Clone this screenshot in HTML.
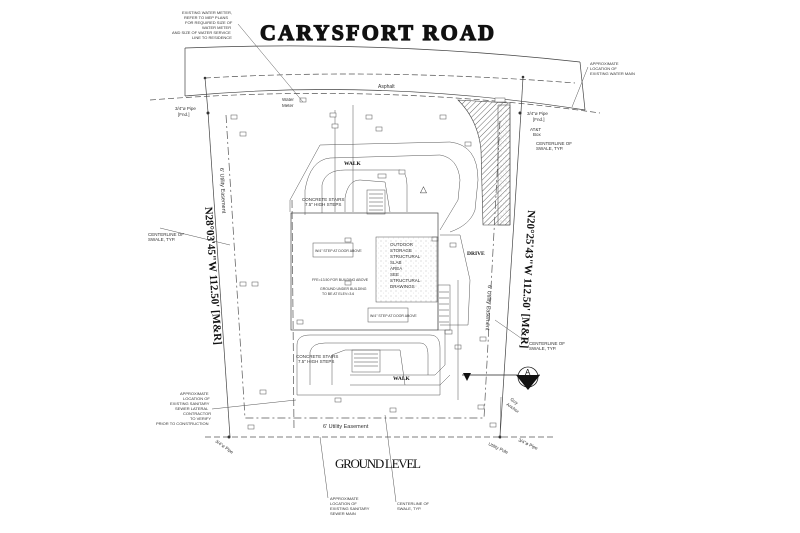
<!DOCTYPE html>
<html><head><style>
html,body{margin:0;padding:0;background:#fff;}
svg{display:block;}
text{font-family:"Liberation Sans",sans-serif;fill:#333;}
.t{font-size:4.5px;}
.s{fill:none;stroke:#444;stroke-width:0.7;}
.d{fill:none;stroke:#555;stroke-width:0.7;stroke-dasharray:6 3;}
.th{fill:none;stroke:#555;stroke-width:0.5;}
.tag{fill:#fff;stroke:#555;stroke-width:0.5;}
</style></head><body>
<svg width="800" height="533" viewBox="0 0 800 533" xmlns="http://www.w3.org/2000/svg">
<defs>
<pattern id="h" width="4" height="4" patternUnits="userSpaceOnUse" patternTransform="rotate(45)"><line x1="0" y1="0" x2="0" y2="4" stroke="#444" stroke-width="0.8"/></pattern>
<pattern id="dots" width="5" height="5" patternUnits="userSpaceOnUse"><circle cx="1" cy="1" r="0.4" fill="#777"/><circle cx="3.5" cy="3" r="0.3" fill="#999"/></pattern>
</defs>
<!-- title -->
<text x="260" y="40" style="font-family:'Liberation Serif',serif;font-weight:bold;font-size:22px;fill:#111;stroke:#111;stroke-width:1.2;letter-spacing:1px" textLength="235">CARYSFORT  ROAD</text>
<text x="335" y="468" style="font-family:'Liberation Serif',serif;font-size:13px;fill:#111;" textLength="86">GROUND LEVEL</text>
<!-- road -->
<path class="s" d="M185,48 Q380,40 580,62"/>
<path class="s" d="M185,96 Q380,78 585,110"/>
<path class="s" d="M185,48 L185,96 M580,62 L585,110"/>
<path class="d" d="M150,100 Q380,82 600,113"/>
<path class="d" d="M205,78 Q380,68 575,83"/>
<text x="378" y="88" class="t" style="font-size:5px">Asphalt</text>
<circle cx="205" cy="78" r="1.3" fill="#333"/><circle cx="523" cy="77" r="1.3" fill="#333"/>
<line class="s" x1="205" y1="78" x2="208" y2="112"/><line class="s" x1="523" y1="77" x2="521" y2="112"/>
<!-- property -->
<line class="s" x1="208" y1="112" x2="230" y2="437"/>
<line class="s" x1="521" y1="112" x2="500" y2="437"/>
<line class="d" x1="205" y1="437" x2="555" y2="437"/>
<circle cx="208" cy="113" r="1.5" fill="#333"/><circle cx="229" cy="437" r="1.5" fill="#333"/><circle cx="500" cy="437" r="1.5" fill="#333"/><circle cx="520" cy="113" r="1.5" fill="#333"/>
<!-- easements -->
<path class="d" d="M226,115 L245,418 L484,418 L500,120" style="stroke-dasharray:8 3 2 3"/>
<line class="d" x1="292" y1="200" x2="294" y2="430" style="stroke-dasharray:8 3"/>
<text x="323" y="428" class="t" style="font-size:5.5px">6' Utility Easement</text>
<text transform="translate(220,168) rotate(87)" class="t" style="font-size:5.5px">6' Utility Easement</text>
<text transform="translate(488,285) rotate(93)" class="t" style="font-size:5.5px">6' Utility Easement</text>
<!-- bearings -->
<text transform="translate(205,207) rotate(86)" style="font-family:'Liberation Serif',serif;font-weight:bold;font-size:11px;fill:#111">N28°03'45"W  112.50'  [M&amp;R]</text>
<text transform="translate(528,210) rotate(93)" style="font-family:'Liberation Serif',serif;font-weight:bold;font-size:11px;fill:#111">N20°25'43"W  112.50'  [M&amp;R]</text>
<!-- hatch strip -->
<path d="M458,100 L510,103 L510,225 L483,225 L481,150 Q478,120 458,100Z" fill="url(#h)" stroke="#444" stroke-width="0.6"/>
<path d="M498,105 L510,105 L510,225 L498,225Z" fill="url(#dots)" stroke="#444" stroke-width="0.5"/>
<!-- upper contours -->
<path class="th" d="M290,212 L290,200 L320,145 L450,142 Q478,145 478,180 L475,210 Q470,225 450,232"/>
<path class="th" d="M305,215 L305,190 Q310,160 330,158 L440,155 Q458,158 460,180 L458,200 L440,230"/>
<path class="th" d="M322,213 L322,185 Q325,170 345,170 L400,170 Q407,172 407,185 L407,212"/>
<path class="th" d="M345,212 L345,198 Q348,180 360,180 L385,182 L390,212"/>
<line class="th" x1="335" y1="110" x2="335" y2="212"/><line class="th" x1="353" y1="105" x2="353" y2="212"/>
<rect x="367" y="190" width="18" height="24" class="th"/>
<g stroke="#444" stroke-width="0.5"><line x1="369" y1="194" x2="383" y2="194"/><line x1="369" y1="198" x2="383" y2="198"/><line x1="369" y1="202" x2="383" y2="202"/><line x1="369" y1="206" x2="383" y2="206"/><line x1="369" y1="210" x2="383" y2="210"/></g>
<text x="344" y="165" style="font-family:'Liberation Serif',serif;font-weight:bold;font-size:5.5px;fill:#111">WALK</text>
<text x="302" y="201" class="t">CONCRETE STAIRS</text><text x="305" y="206" class="t">7.5" HIGH STEPS</text>
<text x="420" y="192" class="t" style="font-size:9px">△</text>
<!-- tags -->
<g>
<rect class="tag" x="231" y="115" width="6" height="4"/><rect class="tag" x="240" y="132" width="6" height="4"/>
<rect class="tag" x="330" y="113" width="6" height="4"/><rect class="tag" x="332" y="124" width="6" height="4"/>
<rect class="tag" x="366" y="115" width="6" height="4"/><rect class="tag" x="376" y="127" width="6" height="4"/>
<rect class="tag" x="440" y="115" width="6" height="4"/><rect class="tag" x="465" y="142" width="6" height="4"/>
<rect class="tag" x="378" y="174" width="8" height="4"/><rect class="tag" x="399" y="170" width="6" height="4"/>
<rect class="tag" x="345" y="238" width="6" height="4"/><rect class="tag" x="345" y="281" width="6" height="4"/>
<rect class="tag" x="240" y="282" width="6" height="4"/><rect class="tag" x="252" y="282" width="6" height="4"/>
<rect class="tag" x="297" y="320" width="6" height="4"/><rect class="tag" x="260" y="390" width="6" height="4"/>
<rect class="tag" x="432" y="237" width="6" height="4"/><rect class="tag" x="450" y="243" width="6" height="4"/>
<rect class="tag" x="445" y="330" width="7" height="4"/><rect class="tag" x="455" y="345" width="6" height="4"/>
<rect class="tag" x="480" y="337" width="6" height="4"/><rect class="tag" x="478" y="405" width="6" height="4"/>
<rect class="tag" x="390" y="408" width="6" height="4"/><rect class="tag" x="335" y="398" width="6" height="4"/>
<rect class="tag" x="248" y="425" width="6" height="4"/><rect class="tag" x="490" y="423" width="6" height="4"/>
<rect class="tag" x="300" y="98" width="6" height="4"/><rect class="tag" x="495" y="98" width="10" height="4"/>
</g>
<!-- building -->
<rect x="291" y="213" width="147" height="117" class="s"/>
<rect x="376" y="237" width="61" height="65" fill="url(#dots)" stroke="#555" stroke-width="0.5"/>
<text x="390" y="246" class="t">OUTDOOR</text><text x="390" y="252" class="t">STORAGE</text><text x="390" y="258" class="t">STRUCTURAL</text><text x="390" y="264" class="t">SLAB</text><text x="390" y="270" class="t">AREA</text><text x="390" y="276" class="t">SEE</text><text x="390" y="282" class="t">STRUCTURAL</text><text x="390" y="288" class="t">DRAWINGS</text>
<rect x="313" y="243" width="40" height="14" class="th"/><text x="315" y="252" class="t" style="font-size:3.5px">W/4" STEP AT DOOR ABOVE</text>
<rect x="368" y="308" width="40" height="14" class="th"/><text x="370" y="317" class="t" style="font-size:3.5px">W/4" STEP AT DOOR ABOVE</text>
<text x="312" y="281" class="t" style="font-size:3.5px">FFE=13.50 FOR BUILDING ABOVE</text>
<text x="320" y="290" class="t" style="font-size:3.5px">GROUND UNDER BUILDING</text><text x="322" y="295" class="t" style="font-size:3.5px">TO BE AT ELEV=3.6</text>
<!-- drive -->
<path class="th" d="M440,235 L460,235 L470,280 L468,325 L440,325"/>
<rect x="438" y="285" width="12" height="45" class="th"/>
<g stroke="#444" stroke-width="0.5"><line x1="439" y1="292" x2="449" y2="292"/><line x1="439" y1="298" x2="449" y2="298"/><line x1="439" y1="304" x2="449" y2="304"/><line x1="439" y1="310" x2="449" y2="310"/><line x1="439" y1="316" x2="449" y2="316"/><line x1="439" y1="322" x2="449" y2="322"/></g>
<text x="467" y="255" style="font-family:'Liberation Serif',serif;font-weight:bold;font-size:5.5px;fill:#111">DRIVE</text>
<line class="th" x1="458" y1="280" x2="458" y2="400"/>
<!-- lower contours -->
<path class="th" d="M297,395 L297,345 Q297,335 310,335 L430,335 Q440,335 440,348 L440,395 Z"/>
<path class="th" d="M310,385 L310,352 Q312,343 325,343 L420,343 Q428,343 428,355 L428,375"/>
<path class="th" d="M332,385 L332,355 L345,350 L400,350 L405,385"/>
<rect x="352" y="350" width="28" height="22" class="th"/>
<g stroke="#444" stroke-width="0.5"><line x1="354" y1="354" x2="378" y2="354"/><line x1="354" y1="358" x2="378" y2="358"/><line x1="354" y1="362" x2="378" y2="362"/><line x1="354" y1="366" x2="378" y2="366"/></g>
<path class="th" d="M350,375 L435,375 L445,365 L445,330"/>
<path class="th" d="M350,385 L440,385 L450,375"/>
<text x="393" y="380" style="font-family:'Liberation Serif',serif;font-weight:bold;font-size:5.5px;fill:#111">WALK</text>
<text x="296" y="358" class="t">CONCRETE STAIRS</text><text x="298" y="363" class="t">7.5" HIGH STEPS</text>
<!-- section marker -->
<line x1="462" y1="375" x2="540" y2="375" stroke="#222" stroke-width="0.8"/>
<path d="M463,373 L471,373 L467,381Z" fill="#111"/>
<circle cx="528" cy="377" r="10" fill="#fff" stroke="#222" stroke-width="0.8"/>
<path d="M516,375 L540,375 L528,390Z" fill="#111"/>
<text x="525" y="375" class="t" style="font-size:8px;fill:#111">A</text>
<!-- notes -->
<text x="182" y="14" class="t" style="font-size:4px">EXISTING WATER METER,</text>
<text x="184" y="19" class="t" style="font-size:4px">REFER TO MEP PLANS</text>
<text x="185" y="24" class="t" style="font-size:4px">FOR REQUIRED SIZE OF</text>
<text x="202" y="29" class="t" style="font-size:4px">WATER METER</text>
<text x="172" y="34" class="t" style="font-size:4px">AND SIZE OF WATER SERVICE</text>
<text x="192" y="39" class="t" style="font-size:4px">LINE TO RESIDENCE</text>
<line class="th" x1="238" y1="24" x2="303" y2="102"/>
<text x="282" y="101" class="t">Water</text><text x="282" y="107" class="t">Meter</text>
<text x="590" y="65" class="t" style="font-size:4px">APPROXIMATE</text><text x="590" y="70" class="t" style="font-size:4px">LOCATION OF</text><text x="590" y="75" class="t" style="font-size:4px">EXISTING WATER MAIN</text>
<line class="th" x1="588" y1="67" x2="572" y2="107"/>
<text x="175" y="110" class="t">3/4"ø Pipe</text><text x="178" y="116" class="t">[Fnd.]</text>
<text x="527" y="115" class="t">3/4"ø Pipe</text><text x="533" y="121" class="t">[Fnd.]</text>
<text x="530" y="131" class="t">AT&amp;T</text><text x="533" y="136" class="t">Box</text>
<text x="536" y="145" class="t">CENTERLINE OF</text><text x="536" y="150" class="t">SWALE, TYP.</text>
<text x="148" y="236" class="t">CENTERLINE OF</text><text x="148" y="241" class="t">SWALE, TYP.</text>
<line class="th" x1="160" y1="228" x2="230" y2="245"/>
<text x="529" y="345" class="t">CENTERLINE OF</text><text x="529" y="350" class="t">SWALE, TYP.</text>
<line class="th" x1="495" y1="320" x2="528" y2="343"/>
<text x="180" y="395" class="t" style="font-size:4px">APPROXIMATE</text><text x="183" y="400" class="t" style="font-size:4px">LOCATION OF</text><text x="170" y="405" class="t" style="font-size:4px">EXISTING SANITARY</text><text x="175" y="410" class="t" style="font-size:4px">SEWER LATERAL</text><text x="183" y="415" class="t" style="font-size:4px">CONTRACTOR</text><text x="190" y="420" class="t" style="font-size:4px">TO VERIFY</text><text x="156" y="425" class="t" style="font-size:4px">PRIOR TO CONSTRUCTION</text>
<line class="th" x1="212" y1="409" x2="296" y2="400"/>
<text x="330" y="500" class="t" style="font-size:4px">APPROXIMATE</text><text x="330" y="505" class="t" style="font-size:4px">LOCATION OF</text><text x="330" y="510" class="t" style="font-size:4px">EXISTING SANITARY</text><text x="330" y="515" class="t" style="font-size:4px">SEWER MAIN</text>
<line class="th" x1="320" y1="437" x2="328" y2="498"/>
<text x="397" y="505" class="t" style="font-size:4px">CENTERLINE OF</text><text x="397" y="510" class="t" style="font-size:4px">SWALE, TYP.</text>
<line class="th" x1="385" y1="415" x2="396" y2="502"/>
<text transform="translate(215,442) rotate(35)" class="t">3/4"ø Pipe</text>
<text transform="translate(518,441) rotate(25)" class="t">3/4"ø Pipe</text>
<text transform="translate(488,445) rotate(25)" class="t">Utility Pole</text>
<text transform="translate(510,400) rotate(35)" class="t">Guy</text><text transform="translate(506,405) rotate(35)" class="t">Anchor</text>
<line class="th" x1="500" y1="437" x2="501" y2="397"/>
</svg>
</body></html>
